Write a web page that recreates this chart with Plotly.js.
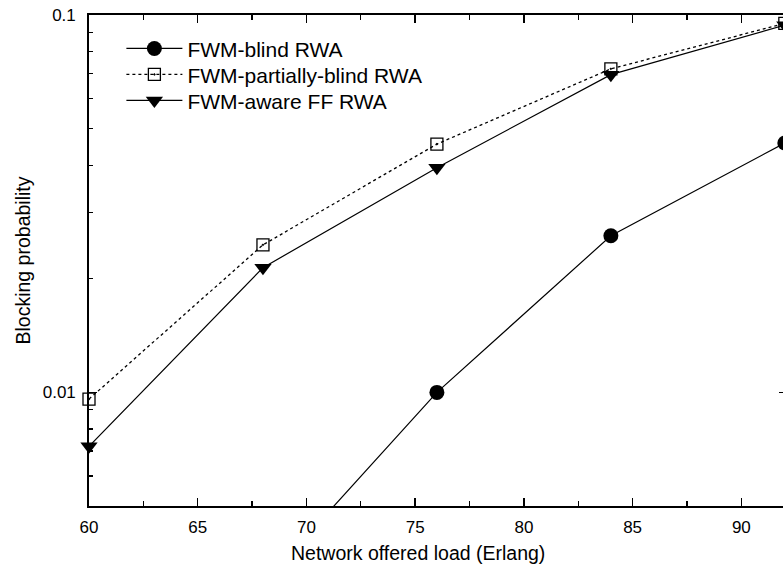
<!DOCTYPE html>
<html>
<head>
<meta charset="utf-8">
<script src="https://cdn.plot.ly/plotly-3.0.1.min.js"></script>
<style>
  html, body { margin: 0; padding: 0; overflow: hidden; background: #fff; }
  #chart { width: 788px; height: 574px; }
</style>
</head>
<body>
<div id="chart"></div>
<script>
// Offered load (Erlang) for each simulation run
const loadBlind = [68, 76, 84, 92];
const loadOther = [60, 68, 76, 84, 92];

// Blocking probability per RWA scheme
const blindRWA = [0.0031, 0.0100, 0.0260, 0.0458];
const partiallyBlindRWA = [0.0096, 0.0246, 0.0455, 0.0720, 0.0950];
const awareFFRWA = [0.0072, 0.0214, 0.0394, 0.0695, 0.0940];

// Series names
const seriesNames = ['FWM-blind RWA', 'FWM-partially-blind RWA', 'FWM-aware FF RWA'];

// Axis labels
const xTickVals = [60, 65, 70, 75, 80, 85, 90];
const yTickVals = [0.01, 0.1];
const yTickText = ['0.01', '0.1'];

const FONT = 'Liberation Sans, Arial, Helvetica, sans-serif';

const traces = [
  {
    x: loadBlind, y: blindRWA, name: seriesNames[0], legend: 'legend',
    type: 'scatter', mode: 'lines+markers', cliponaxis: false,
    line: { color: '#000', width: 1.2, dash: 'solid' },
    marker: { symbol: 'circle', size: 15, color: '#000' }
  },
  {
    x: loadOther, y: partiallyBlindRWA, name: seriesNames[1], legend: 'legend2',
    type: 'scatter', mode: 'lines+markers', cliponaxis: false,
    line: { color: '#000', width: 1.3, dash: 'dot' },
    marker: { symbol: 'square-open-dot', size: 12, color: '#000', line: { color: '#000', width: 1.3 } }
  },
  {
    x: loadOther, y: awareFFRWA, name: seriesNames[2], legend: 'legend3',
    type: 'scatter', mode: 'lines+markers', cliponaxis: false,
    line: { color: '#000', width: 1.2, dash: 'solid' },
    marker: { symbol: 'triangle-down', size: 15, color: '#000' }
  }
];

const minorY = [0.006, 0.007, 0.008, 0.009, 0.02, 0.03, 0.04, 0.05, 0.06, 0.07, 0.08, 0.09];

// one legend box per entry so the rows can sit close together
function legendRow(yPaper) {
  return {
    x: 0.0464, y: yPaper, xanchor: 'left', yanchor: 'top',
    bgcolor: 'rgba(0,0,0,0)', borderwidth: 0,
    font: { family: FONT, size: 21, color: '#000' },
    itemwidth: 56
  };
}

const layout = {
  width: 788,
  height: 574,
  margin: { l: 89, r: 1, t: 15, b: 68 },
  paper_bgcolor: '#fff',
  plot_bgcolor: '#fff',
  font: { family: FONT, color: '#000', size: 17 },
  showlegend: true,
  legend: legendRow(0.9729),
  legend2: legendRow(0.9200),
  legend3: legendRow(0.8670),
  xaxis: {
    range: [60, 92.1],
    tickmode: 'array', tickvals: xTickVals,
    ticks: 'inside', ticklen: 8, tickwidth: 1.5, tickcolor: '#000',
    showline: true, linecolor: '#000', linewidth: 1.8, mirror: 'ticks',
    showgrid: false, zeroline: false,
    tickfont: { family: FONT, size: 17, color: '#000' },
    ticklabelstandoff: 5,
    minor: { dtick: 2.5, tick0: 60, ticks: 'inside', ticklen: 5, tickwidth: 1.3, tickcolor: '#000', showgrid: false }
  },
  yaxis: {
    type: 'log',
    range: [Math.log10(0.005), -1],
    tickmode: 'array', tickvals: yTickVals, ticktext: yTickText,
    ticks: 'inside', ticklen: 8, tickwidth: 1.5, tickcolor: '#000',
    showline: true, linecolor: '#000', linewidth: 1.8, mirror: 'ticks',
    showgrid: false, zeroline: false,
    tickfont: { family: FONT, size: 17, color: '#000' },
    ticklabelstandoff: 8,
    minor: { tickmode: 'array', tickvals: minorY, ticks: 'inside', ticklen: 4, tickwidth: 1.3, tickcolor: '#000', showgrid: false },
    title: { text: 'Blocking probability', font: { family: FONT, size: 19.5, color: '#000' }, standoff: 7 }
  },
  annotations: [
    {
      text: 'Network offered load (Erlang)',
      xref: 'paper', yref: 'paper',
      x: (418 - 89) / 698, y: -0.0965,
      xanchor: 'center', yanchor: 'middle',
      showarrow: false,
      font: { family: FONT, size: 19.5, color: '#000' }
    }
  ]
};

Plotly.newPlot('chart', traces, layout, { displayModeBar: false, staticPlot: true });
</script>
</body>
</html>
